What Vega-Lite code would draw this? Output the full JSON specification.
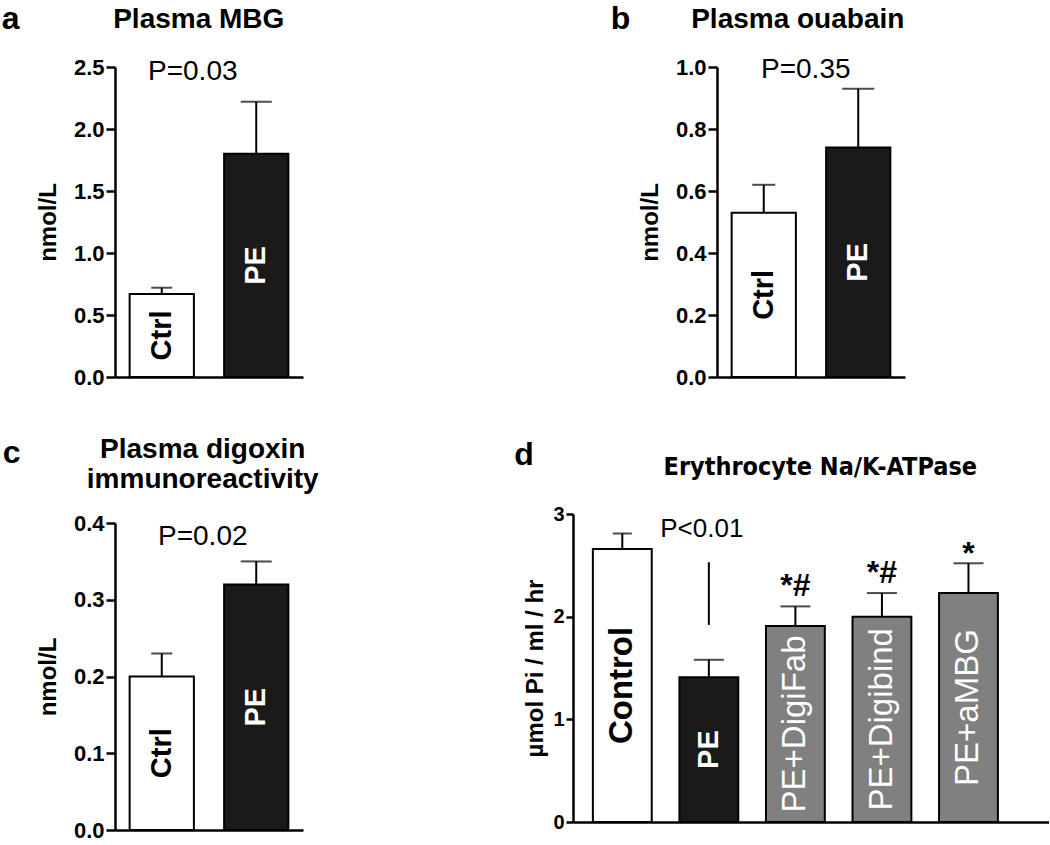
{
  "$schema": "https://vega.github.io/schema/vega-lite/v6.json",
  "background": "white",
  "padding": {"left": 1, "top": 3, "right": 0, "bottom": 0},
  "autosize": {"type": "pad"},
  "spacing": 458,
  "bounds": "flush",
  "hconcat": [
    {
      "vconcat": [
        {
          "width": 188, "height": 310,
          "data": {"values": [
            {"group": "Ctrl", "value": 0.67, "upper": 0.72},
            {"group": "PE", "value": 1.80, "upper": 2.22}
          ]},
          "layer": [
            {"layer": [
              {"mark": {"type": "bar", "stroke": "#000", "strokeWidth": 2},
               "encoding": {
                 "x": {"field": "group", "type": "nominal", "sort": null, "scale": {"paddingInner": 0.32, "paddingOuter": 0.155}, "axis": {"labels": false, "ticks": false, "title": null}},
                 "y": {"field": "value", "type": "quantitative", "scale": {"domain": [0, 2.5], "nice": false}, "axis": {"values": [0, 0.5, 1, 1.5, 2, 2.5], "format": ".1f", "title": "nmol/L"}},
                 "fill": {"condition": {"test": "datum.group === 'Ctrl'", "value": "#ffffff"}, "value": "#1a1a1a"}}},
              {"mark": {"type": "rule", "strokeWidth": 2, "color": "#000"},
               "encoding": {"x": {"field": "group", "type": "nominal", "sort": null}, "y": {"field": "value", "type": "quantitative"}, "y2": {"field": "upper"}}},
              {"mark": {"type": "tick", "thickness": 2, "color": "#000"},
               "encoding": {"x": {"field": "group", "type": "nominal", "sort": null}, "y": {"field": "upper", "type": "quantitative"}, "size": {"condition": {"test": "datum.group === 'Ctrl'", "value": 21}, "value": 31}}},
              {"data": {"values": [{}]},
               "mark": {"type": "text", "fontSize": 28, "align": "center", "baseline": "alphabetic", "dx": 31, "dy": 13, "color": "#000"},
               "encoding": {"x": {"datum": "Ctrl", "type": "nominal"}, "y": {"datum": 2.5, "type": "quantitative"}, "text": {"value": "P=0.03"}}},
              {"data": {"values": [{}]},
               "mark": {"type": "text", "fontSize": 28, "fontWeight": "bold", "align": "center", "baseline": "alphabetic", "dx": 37, "dy": -39, "color": "#000"},
               "encoding": {"x": {"datum": "Ctrl", "type": "nominal"}, "y": {"datum": 2.5, "type": "quantitative"}, "text": {"value": "Plasma MBG"}}},
              {"data": {"values": [{}]},
               "mark": {"type": "text", "fontSize": 32, "fontWeight": "bold", "align": "left", "baseline": "alphabetic", "dx": -160, "dy": -38, "color": "#000"},
               "encoding": {"x": {"datum": "Ctrl", "type": "nominal"}, "y": {"datum": 2.5, "type": "quantitative"}, "text": {"value": "a"}}}
            ]},
            {"mark": {"type": "text", "angle": 270, "fontSize": 29, "fontWeight": "bold", "align": "center", "baseline": "middle"},
             "encoding": {
               "x": {"field": "group", "type": "nominal", "sort": null},
               "y": {"field": "value", "type": "quantitative", "scale": {"domain": [0, 5], "nice": false}, "axis": null},
               "text": {"field": "group"},
               "color": {"condition": {"test": "datum.group === 'Ctrl'", "value": "#000000"}, "value": "#ffffff"}}}
          ],
          "resolve": {"scale": {"y": "independent"}}
        },
        {
          "width": 188, "height": 307,
          "data": {"values": [
            {"group": "Ctrl", "value": 0.20, "upper": 0.23},
            {"group": "PE", "value": 0.32, "upper": 0.35}
          ]},
          "layer": [
            {"layer": [
              {"mark": {"type": "bar", "stroke": "#000", "strokeWidth": 2},
               "encoding": {
                 "x": {"field": "group", "type": "nominal", "sort": null, "scale": {"paddingInner": 0.32, "paddingOuter": 0.155}, "axis": {"labels": false, "ticks": false, "title": null}},
                 "y": {"field": "value", "type": "quantitative", "scale": {"domain": [0, 0.4], "nice": false}, "axis": {"values": [0, 0.1, 0.2, 0.3, 0.4], "format": ".1f", "title": "nmol/L"}},
                 "fill": {"condition": {"test": "datum.group === 'Ctrl'", "value": "#ffffff"}, "value": "#1a1a1a"}}},
              {"mark": {"type": "rule", "strokeWidth": 2, "color": "#000"},
               "encoding": {"x": {"field": "group", "type": "nominal", "sort": null}, "y": {"field": "value", "type": "quantitative"}, "y2": {"field": "upper"}}},
              {"mark": {"type": "tick", "thickness": 2, "color": "#000"},
               "encoding": {"x": {"field": "group", "type": "nominal", "sort": null}, "y": {"field": "upper", "type": "quantitative"}, "size": {"condition": {"test": "datum.group === 'Ctrl'", "value": 21}, "value": 31}}},
              {"data": {"values": [{}]},
               "mark": {"type": "text", "fontSize": 28, "align": "center", "baseline": "alphabetic", "dx": 41, "dy": 22, "color": "#000"},
               "encoding": {"x": {"datum": "Ctrl", "type": "nominal"}, "y": {"datum": 0.4, "type": "quantitative"}, "text": {"value": "P=0.02"}}},
              {"data": {"values": [{}]},
               "mark": {"type": "text", "fontSize": 28, "fontWeight": "bold", "align": "center", "baseline": "alphabetic", "dx": 41, "dy": -65, "lineHeight": 30, "color": "#000"},
               "encoding": {"x": {"datum": "Ctrl", "type": "nominal"}, "y": {"datum": 0.4, "type": "quantitative"}, "text": {"value": ["Plasma digoxin", "immunoreactivity"]}}},
              {"data": {"values": [{}]},
               "mark": {"type": "text", "fontSize": 32, "fontWeight": "bold", "align": "left", "baseline": "alphabetic", "dx": -159, "dy": -60, "color": "#000"},
               "encoding": {"x": {"datum": "Ctrl", "type": "nominal"}, "y": {"datum": 0.4, "type": "quantitative"}, "text": {"value": "c"}}}
            ]},
            {"mark": {"type": "text", "angle": 270, "fontSize": 29, "fontWeight": "bold", "align": "center", "baseline": "middle"},
             "encoding": {
               "x": {"field": "group", "type": "nominal", "sort": null},
               "y": {"field": "value", "type": "quantitative", "scale": {"domain": [0, 0.8], "nice": false}, "axis": null},
               "text": {"field": "group"},
               "color": {"condition": {"test": "datum.group === 'Ctrl'", "value": "#000000"}, "value": "#ffffff"}}}
          ],
          "resolve": {"scale": {"y": "independent"}}
        }
      ],
      "spacing": 146,
      "bounds": "flush"
    },
    {
      "vconcat": [
        {
          "width": 188, "height": 310,
          "data": {"values": [
            {"group": "Ctrl", "value": 0.53, "upper": 0.62},
            {"group": "PE", "value": 0.74, "upper": 0.93}
          ]},
          "layer": [
            {"layer": [
              {"mark": {"type": "bar", "stroke": "#000", "strokeWidth": 2},
               "encoding": {
                 "x": {"field": "group", "type": "nominal", "sort": null, "scale": {"paddingInner": 0.32, "paddingOuter": 0.155}, "axis": {"labels": false, "ticks": false, "title": null}},
                 "y": {"field": "value", "type": "quantitative", "scale": {"domain": [0, 1], "nice": false}, "axis": {"values": [0, 0.2, 0.4, 0.6, 0.8, 1], "format": ".1f", "title": "nmol/L"}},
                 "fill": {"condition": {"test": "datum.group === 'Ctrl'", "value": "#ffffff"}, "value": "#1a1a1a"}}},
              {"mark": {"type": "rule", "strokeWidth": 2, "color": "#000"},
               "encoding": {"x": {"field": "group", "type": "nominal", "sort": null}, "y": {"field": "value", "type": "quantitative"}, "y2": {"field": "upper"}}},
              {"mark": {"type": "tick", "thickness": 2, "color": "#000"},
               "encoding": {"x": {"field": "group", "type": "nominal", "sort": null}, "y": {"field": "upper", "type": "quantitative"}, "size": {"condition": {"test": "datum.group === 'Ctrl'", "value": 23}, "value": 32}}},
              {"data": {"values": [{}]},
               "mark": {"type": "text", "fontSize": 28, "align": "center", "baseline": "alphabetic", "dx": 42, "dy": 11, "color": "#000"},
               "encoding": {"x": {"datum": "Ctrl", "type": "nominal"}, "y": {"datum": 1, "type": "quantitative"}, "text": {"value": "P=0.35"}}},
              {"data": {"values": [{}]},
               "mark": {"type": "text", "fontSize": 28, "fontWeight": "bold", "align": "center", "baseline": "alphabetic", "dx": 34, "dy": -39, "color": "#000"},
               "encoding": {"x": {"datum": "Ctrl", "type": "nominal"}, "y": {"datum": 1, "type": "quantitative"}, "text": {"value": "Plasma ouabain"}}},
              {"data": {"values": [{}]},
               "mark": {"type": "text", "fontSize": 32, "fontWeight": "bold", "align": "left", "baseline": "alphabetic", "dx": -153, "dy": -38, "color": "#000"},
               "encoding": {"x": {"datum": "Ctrl", "type": "nominal"}, "y": {"datum": 1, "type": "quantitative"}, "text": {"value": "b"}}}
            ]},
            {"mark": {"type": "text", "angle": 270, "fontSize": 29, "fontWeight": "bold", "align": "center", "baseline": "middle"},
             "encoding": {
               "x": {"field": "group", "type": "nominal", "sort": null},
               "y": {"field": "value", "type": "quantitative", "scale": {"domain": [0, 2], "nice": false}, "axis": null},
               "text": {"field": "group"},
               "color": {"condition": {"test": "datum.group === 'Ctrl'", "value": "#000000"}, "value": "#ffffff"}}}
          ],
          "resolve": {"scale": {"y": "independent"}}
        },
        {
          "width": 476, "height": 308,
          "data": {"values": [
            {"group": "Control", "value": 2.66, "upper": 2.81, "sig": ""},
            {"group": "PE", "value": 1.41, "upper": 1.58, "sig": ""},
            {"group": "PE+DigiFab", "value": 1.91, "upper": 2.10, "sig": "*#"},
            {"group": "PE+Digibind", "value": 2.00, "upper": 2.23, "sig": "*#"},
            {"group": "PE+aMBG", "value": 2.23, "upper": 2.52, "sig": "*"}
          ]},
          "layer": [
            {"layer": [
              {"mark": {"type": "bar", "stroke": "#000", "strokeWidth": 2},
               "encoding": {
                 "x": {"field": "group", "type": "nominal", "sort": null, "scale": {"paddingInner": 0.32, "paddingOuter": 0.41, "align": 0.28}, "axis": {"labels": false, "ticks": false, "title": null}},
                 "y": {"field": "value", "type": "quantitative", "scale": {"domain": [0, 3], "nice": false}, "axis": {"values": [0, 1, 2, 3], "format": "d", "title": "µmol Pi / ml / hr", "labelFontSize": 20, "tickSize": 7, "titlePadding": 5}},
                 "fill": {"condition": [{"test": "datum.group === 'Control'", "value": "#ffffff"}, {"test": "datum.group === 'PE'", "value": "#1a1a1a"}], "value": "#808080"}}},
              {"mark": {"type": "rule", "strokeWidth": 2, "color": "#000"},
               "encoding": {"x": {"field": "group", "type": "nominal", "sort": null}, "y": {"field": "value", "type": "quantitative"}, "y2": {"field": "upper"}}},
              {"mark": {"type": "tick", "thickness": 2, "color": "#000"},
               "encoding": {"x": {"field": "group", "type": "nominal", "sort": null}, "y": {"field": "upper", "type": "quantitative"}, "size": {"condition": {"test": "datum.group === 'Control'", "value": 19}, "value": 30}}},
              {"transform": [{"filter": "datum.sig === '*#'"}],
               "mark": {"type": "text", "fontSize": 32, "fontWeight": "bold", "align": "center", "baseline": "alphabetic", "dy": -10, "color": "#000"},
               "encoding": {"x": {"field": "group", "type": "nominal", "sort": null}, "y": {"field": "upper", "type": "quantitative"}, "text": {"field": "sig"}}},
              {"transform": [{"filter": "datum.sig === '*'"}],
               "mark": {"type": "text", "fontSize": 32, "fontWeight": "bold", "align": "center", "baseline": "alphabetic", "dy": 1, "color": "#000"},
               "encoding": {"x": {"field": "group", "type": "nominal", "sort": null}, "y": {"field": "upper", "type": "quantitative"}, "text": {"field": "sig"}}},
              {"data": {"values": [{}]},
               "mark": {"type": "rule", "strokeWidth": 2, "color": "#000"},
               "encoding": {"x": {"datum": "PE", "type": "nominal"}, "y": {"datum": 1.92, "type": "quantitative"}, "y2": {"datum": 2.53}}},
              {"data": {"values": [{}]},
               "mark": {"type": "text", "fontSize": 26, "align": "center", "baseline": "alphabetic", "dx": -7, "dy": 23, "color": "#000"},
               "encoding": {"x": {"datum": "PE", "type": "nominal"}, "y": {"datum": 3, "type": "quantitative"}, "text": {"value": "P<0.01"}}},
              {"data": {"values": [{}]},
               "mark": {"type": "text", "fontSize": 25, "fontWeight": "bold", "font": "Liberation Sans Narrow, Arial Narrow, DejaVu Sans Condensed, sans-serif", "align": "center", "baseline": "alphabetic", "dx": 198, "dy": -39, "color": "#000"},
               "encoding": {"x": {"datum": "Control", "type": "nominal"}, "y": {"datum": 3, "type": "quantitative"}, "text": {"value": "Erythrocyte Na/K-ATPase"}}},
              {"data": {"values": [{}]},
               "mark": {"type": "text", "fontSize": 32, "fontWeight": "bold", "align": "left", "baseline": "alphabetic", "dx": -108, "dy": -49, "color": "#000"},
               "encoding": {"x": {"datum": "Control", "type": "nominal"}, "y": {"datum": 3, "type": "quantitative"}, "text": {"value": "d"}}}
            ]},
            {"layer": [
              {"transform": [{"filter": "datum.group === 'Control'"}],
               "mark": {"type": "text", "angle": 270, "fontSize": 33, "fontWeight": "bold", "align": "center", "baseline": "middle", "color": "#000"},
               "encoding": {"x": {"field": "group", "type": "nominal", "sort": null}, "y": {"field": "value", "type": "quantitative", "scale": {"domain": [0, 6], "nice": false}, "axis": null}, "text": {"field": "group"}}},
              {"transform": [{"filter": "datum.group === 'PE'"}],
               "mark": {"type": "text", "angle": 270, "fontSize": 29, "fontWeight": "bold", "align": "center", "baseline": "middle", "color": "#fff"},
               "encoding": {"x": {"field": "group", "type": "nominal", "sort": null}, "y": {"field": "value", "type": "quantitative", "scale": {"domain": [0, 6], "nice": false}, "axis": null}, "text": {"field": "group"}}},
              {"transform": [{"filter": "datum.group !== 'PE' && datum.group !== 'Control'"}],
               "mark": {"type": "text", "angle": 270, "fontSize": 33, "align": "center", "baseline": "middle", "color": "#fff"},
               "encoding": {"x": {"field": "group", "type": "nominal", "sort": null}, "y": {"field": "value", "type": "quantitative", "scale": {"domain": [0, 6], "nice": false}, "axis": null}, "text": {"field": "group"}}}
            ]}
          ],
          "resolve": {"scale": {"y": "independent"}}
        }
      ],
      "spacing": 137,
      "bounds": "flush",
      "center": true
    }
  ],
  "config": {
    "font": "Liberation Sans",
    "view": {"stroke": null},
    "axis": {
      "grid": false,
      "domainColor": "#000", "domainWidth": 2.5,
      "tickColor": "#000", "tickWidth": 2.5, "tickSize": 9,
      "labelColor": "#000", "labelFont": "Liberation Sans", "labelFontSize": 22, "labelFontWeight": "bold", "labelPadding": 2,
      "titleColor": "#000", "titleFont": "Liberation Sans", "titleFontSize": 24, "titleFontWeight": "bold", "titlePadding": 13
    }
  }
}
